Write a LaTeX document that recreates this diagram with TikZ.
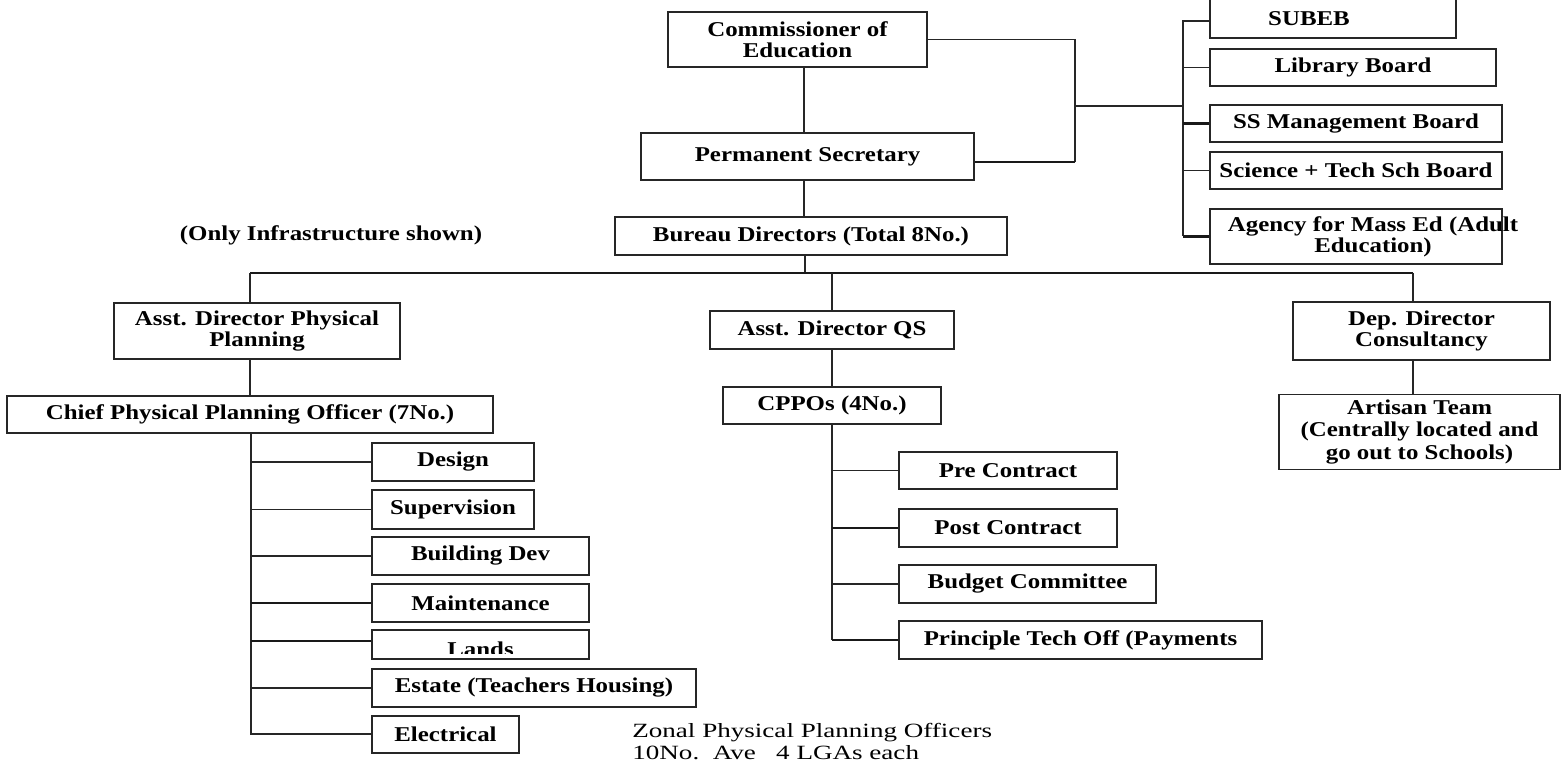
\documentclass[tikz,border=0pt]{standalone}
\usepackage{fontspec}
\setmainfont{Liberation Serif}[FakeStretch=1.18]
\newfontfamily\zonalfont{Liberation Serif}[FakeStretch=1.34]
\begin{document}
\begin{tikzpicture}[x=0.02cm,y=-0.02cm,
  ln/.style={line width=0.7pt,draw=black!85},
  tk/.style={line width=1.2pt,draw=black!90},
  box/.style={draw=black!85,line width=0.7pt,inner sep=0pt,align=center,
    font=\bfseries\fontsize{12}{12}\selectfont},
  tbox/.style={box,line width=1.2pt},
  wh/.style 2 args={minimum width=#1*0.02cm,minimum height=#2*0.02cm},
  txt/.style={inner sep=0pt,align=center,font=\bfseries\fontsize{12}{12}\selectfont}]
\useasboundingbox (0,0) rectangle (1562,763);
\clip (0,0) rectangle (1562,763);
% top chain
\node[box,wh={259}{55}] (comm) at (797.5,39.5) {Commissioner of\\Education};
\node[box,wh={333}{47}] (ps) at (807.5,156.5) {Permanent Secretary};
\node[box,wh={392}{38}] (bur) at (811,236) {Bureau Directors (Total 8No.)};
% boards
\node[box,wh={246}{44}] (subeb) at (1333,16) {};
\node[txt] (subebt) at (1309,19) {SUBEB};
\node[tbox,wh={286}{37}] (lib) at (1353,67.5) {Library Board};
\node[box,wh={292}{37}] (ssm) at (1356,123.5) {SS Management Board};
\node[box,wh={292}{37}] (sci) at (1356,170.5) {Science + Tech Sch Board};
\node[box,wh={292}{55}] (agency) at (1356,236.5) {};
\node[txt] (agencyt) at (1373,236.5) {Agency for Mass Ed (Adult\\Education)};
\node[txt] (only) at (331,235) {(Only Infrastructure shown)};
% second level
\node[box,wh={286}{56}] (adpp) at (257,331) {Asst. Director Physical\\Planning};
\node[box,wh={486}{37}] (cppo) at (250,414.5) {Chief Physical Planning Officer (7No.)};
\node[tbox,wh={244}{38}] (adqs) at (832,330) {Asst. Director QS};
\node[box,wh={218}{37}] (cppos) at (832,405.5) {CPPOs (4No.)};
\node[box,wh={257}{58}] (dep) at (1421.5,331) {Dep. Director\\Consultancy};
\node[box,wh={281}{75},font=\bfseries\fontsize{12}{12.6}\selectfont] (art) at (1419.5,432) {Artisan Team\\(Centrally located and\\go out to Schools)};
% left sub-boxes
\node[box,wh={162}{38}] (design) at (453,462) {Design};
\node[box,wh={162}{39}] (superv) at (453,509.5) {Supervision};
\node[box,wh={217}{38}] (bdev) at (480.5,556) {Building Dev};
\node[box,wh={217}{38}] (maint) at (480.5,603) {Maintenance};
\node[box,wh={217}{29}] (lands) at (480.5,644.5) {};
\begin{scope}
\clip (372,630) rectangle (589,653);
\node[txt,anchor=base] (landst) at (480.5,656) {Lands};
\end{scope}
\node[box,wh={324}{38}] (estate) at (534,688) {Estate (Teachers Housing)};
\node[box,wh={147}{37}] (elec) at (445.5,734.5) {Electrical};
% QS sub-boxes
\node[box,wh={218}{37}] (pre) at (1008,470.5) {Pre Contract};
\node[box,wh={218}{38}] (post) at (1008,528) {Post Contract};
\node[box,wh={257}{38}] (budget) at (1027.5,584) {Budget Committee};
\node[box,wh={363}{38}] (princ) at (1080.5,640) {Principle Tech Off (Payments};
% note
\node[inner sep=0pt,anchor=base west,align=left,font=\zonalfont\fontsize{11.5}{12}\selectfont] (zonal) at (632,759)
  {Zonal Physical Planning Officers\\10No.\ \ Ave\ \ \ 4 LGAs each};
% coordinates
\coordinate (v) at (804,0);
\coordinate (ja) at (1075,162);
\coordinate (jb) at (1075,106);
\coordinate (tr) at (1183,21);
\coordinate (tb) at (1183,236);
\coordinate (bus) at (805,273);
\coordinate (bl) at (250,273);
\coordinate (br) at (1413,273);
\coordinate (lt) at (251,734);
\coordinate (qt) at (832,640);
% connectors top
\draw[ln] (comm.south -| v) -- (ps.north -| v);
\draw[ln] (ps.south -| v) -- (bur.north -| v);
\draw[ln] (comm.east) -| (ja);
\draw[tk] (ja) -- (ps.east |- ja);
\draw[ln] (jb) -- (jb -| tr);
\draw[ln] (subeb.west |- tr) -- (tr) -- (tb);
\draw[ln] (tr |- lib.west) -- (lib.west);
\draw[tk] (tr |- ssm.west) -- (ssm.west);
\draw[ln] (tr |- sci.west) -- (sci.west);
\draw[tk] (tr |- agency.west) -- (agency.west);
% bus
\draw[ln] (bur.south -| bus) -- (bus);
\draw[tk] (bl) -- (br);
\draw[ln] (bl) -- (adpp.north -| bl);
\draw[ln] (adqs.north |- bl) -- (adqs.north);
\draw[ln] (br) -- (dep.north -| br);
\draw[ln] (dep.south -| br) -- (art.north -| br);
\draw[ln] (adpp.south -| bl) -- (cppo.north -| bl);
\draw[ln] (adqs.south) -- (cppos.north);
% left tree
\draw[ln] (cppo.south -| lt) -- (lt) -- (elec.west |- lt);
\draw[ln] (lt |- design.west) -- (design.west);
\draw[ln] (lt |- superv.west) -- (superv.west);
\draw[ln] (lt |- bdev.west) -- (bdev.west);
\draw[tk] (lt |- maint.west) -- (maint.west);
\draw[tk] (lt |- 0,641) -- (lands.west |- 0,641);
\draw[ln] (lt |- estate.west) -- (estate.west);
% QS tree
\draw[ln] (cppos.south) -- (qt);
\draw[ln] (qt |- pre.west) -- (pre.west);
\draw[tk] (qt |- post.west) -- (post.west);
\draw[ln] (qt |- budget.west) -- (budget.west);
\draw[tk] (qt) -- (princ.west);
\end{tikzpicture}
\end{document}
